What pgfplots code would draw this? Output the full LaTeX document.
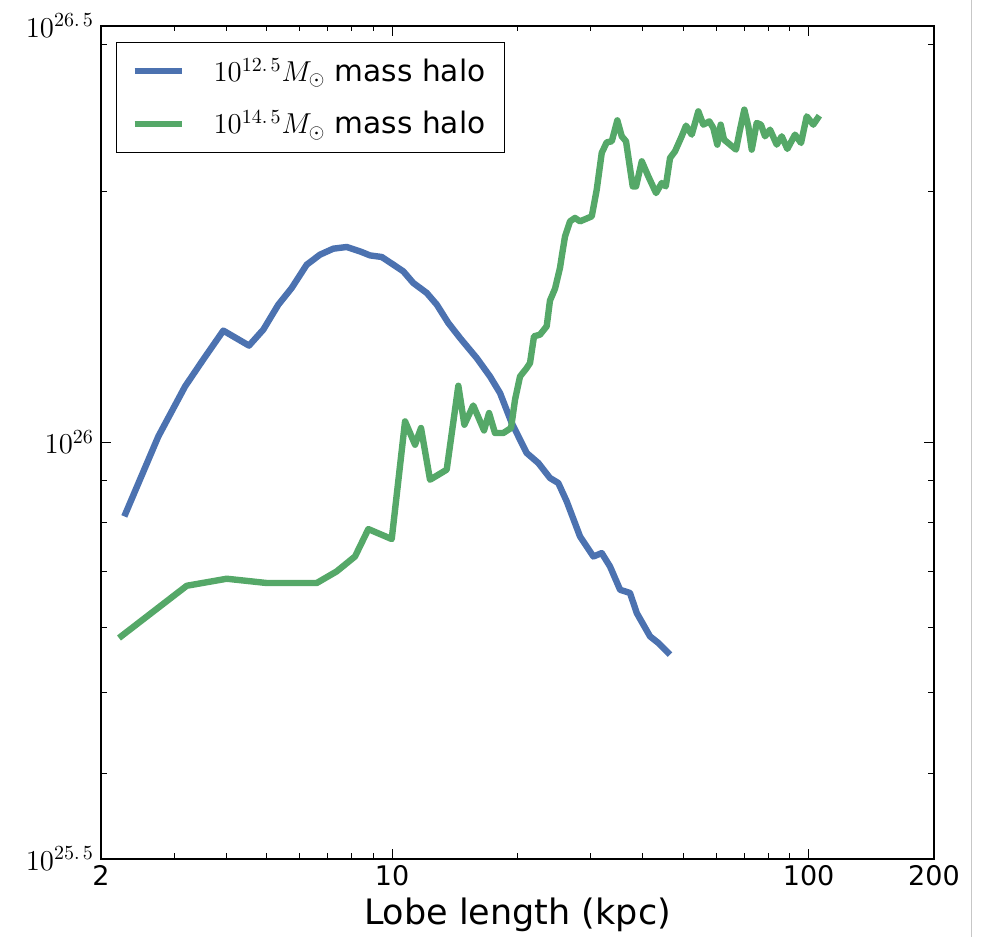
\documentclass[border=0pt]{standalone}
\usepackage{fontspec}
\setmainfont{DejaVu Sans}
\usepackage{pgfplots}
\pgfplotsset{compat=1.18}
\definecolor{sbblue}{HTML}{4C72B0}
\definecolor{sbgreen}{HTML}{55A868}
\begin{document}
\begin{tikzpicture}
\useasboundingbox (-50.5pt,-39pt) rectangle (440pt,429.5pt);
\begin{axis}[
  at={(0pt,0pt)}, anchor=south west,
  scale only axis, width=416.5pt, height=416.5pt,
  xmode=log, ymode=log,
  xmin=2, xmax=200, ymin=3.16228e25, ymax=3.16228e26,
  xtick={2,10,100,200}, xticklabels={2,10,100,200},
  minor xtick={3,4,5,6,7,8,9,20,30,40,50,60,70,80,90},
  ytick={3.16228e25,1e26,3.16228e26},
  yticklabels={$10^{25.\,5}$,$10^{26}$,$10^{26.\,5}$},
  minor ytick={4e25,5e25,6e25,7e25,8e25,9e25,2e26,3e26},
  tick pos=both, tick align=inside,
  major tick length=5pt, minor tick length=2.8pt,
  every tick/.style={black, line width=0.5pt},
  axis line style={line width=0.8pt},
  xticklabel style={font=\fontsize{13.5}{16}\selectfont},
  yticklabel style={font=\fontsize{14.3}{16}\selectfont},
  xlabel={Lobe length (kpc)},
  xlabel style={font=\fontsize{17.5}{20}\selectfont, yshift=1pt},
  legend style={at={(0.018,0.981)}, anchor=north west, draw=black, line width=0.6pt,
    font=\fontsize{14.8}{17}\selectfont, inner xsep=7.5pt, inner ysep=6pt, row sep=9pt},
  legend cell align=left,
  legend image code/.code={\draw[#1, line width=3pt] (0pt,0pt) -- (23.5pt,0pt); \path[draw=none,fill=none] (0pt,-0.1pt) rectangle (37.5pt,0.1pt);},
]
\addplot[sbblue, line width=3.2pt, line join=round] coordinates {
(2.275,8.146e25) (2.746,1.0162e26) (3.183,1.1665e26) (3.531,1.2597e26) (3.933,1.3613e26)
(4.533,1.3060e26) (4.906,1.3651e26) (5.331,1.4627e26) (5.740,1.5317e26) (6.236,1.6335e26)
(6.712,1.6793e26) (7.223,1.7074e26) (7.779,1.7154e26) (8.374,1.6946e26) (8.850,1.6760e26)
(9.440,1.6686e26) (10.07,1.6335e26) (10.64,1.6035e26) (11.24,1.5530e26) (12.11,1.5107e26)
(12.80,1.4627e26) (13.64,1.3906e26) (14.55,1.3341e26) (15.96,1.2621e26) (17.18,1.1992e26)
(18.16,1.1455e26) (19.37,1.0545e26) (21.04,9.706e25) (22.44,9.441e25) (23.93,9.058e25)
(25.06,8.933e25) (26.25,8.491e25) (28.26,7.707e25) (30.42,7.292e25) (31.86,7.361e25)
(33.36,7.093e25) (35.26,6.651e25) (37.26,6.591e25) (38.67,6.236e25) (41.61,5.847e25)
(43.57,5.741e25) (46.48,5.559e25)
};
\addlegendentry{$10^{12.\,5}M_{\odot}$ mass halo}
\addplot[sbgreen, line width=3.2pt, line join=round] coordinates {
(2.209,5.821e25) (3.213,6.725e25) (4.008,6.857e25) (5.000,6.776e25) (6.591,6.776e25)
(7.360,6.997e25) (8.146,7.292e25) (8.767,7.866e25) (9.977,7.652e25) (10.74,1.0592e26)
(11.35,9.931e25) (11.73,1.0400e26) (12.33,9.015e25) (13.52,9.268e25) (14.42,1.1688e26)
(14.91,1.0496e26) (15.66,1.1069e26) (16.62,1.0331e26) (17.09,1.0839e26) (17.66,1.0257e26)
(18.49,1.0257e26) (19.30,1.0400e26) (19.73,1.1245e26) (20.28,1.1992e26) (21.04,1.2274e26)
(21.43,1.2445e26) (21.91,1.3400e26) (22.65,1.3463e26) (23.50,1.3776e26) (23.93,1.4790e26)
(24.61,1.5288e26) (25.30,1.6200e26) (25.58,1.6793e26) (26.01,1.7665e26) (26.74,1.8414e26)
(27.48,1.8588e26) (28.26,1.8414e26) (30.15,1.8670e26) (30.99,2.0096e26) (31.86,2.2247e26)
(32.75,2.2908e26) (33.68,2.2971e26) (34.73,2.4343e26) (35.59,2.3291e26) (36.44,2.2971e26)
(37.82,2.0280e26) (38.52,2.0280e26) (39.76,2.1735e26) (41.22,2.0849e26) (43.02,1.9913e26)
(44.40,2.0472e26) (45.39,2.0280e26) (46.48,2.1940e26) (47.78,2.2345e26) (49.57,2.3291e26)
(50.77,2.3988e26) (52.40,2.3401e26) (54.34,2.4955e26) (55.86,2.4054e26) (57.75,2.4274e26)
(59.04,2.3836e26) (60.36,2.2762e26) (61.50,2.4054e26) (62.64,2.3080e26) (64.75,2.2762e26)
(66.93,2.2450e26) (68.43,2.3724e26) (70.08,2.5073e26) (71.65,2.3941e26) (73.01,2.2450e26)
(75.06,2.4167e26) (76.86,2.4054e26) (78.58,2.3291e26) (80.78,2.3724e26) (83.83,2.2762e26)
(86.18,2.3291e26) (88.89,2.2494e26) (92.75,2.3401e26) (95.88,2.2869e26) (98.94,2.4613e26)
(102.6,2.4054e26) (106.1,2.4661e26)
};
\addlegendentry{$10^{14.\,5}M_{\odot}$ mass halo}
\end{axis}
\draw[black!22, line width=0.6pt] (435.3pt,-39pt) -- (435.3pt,429.5pt);
\end{tikzpicture}
\end{document}
